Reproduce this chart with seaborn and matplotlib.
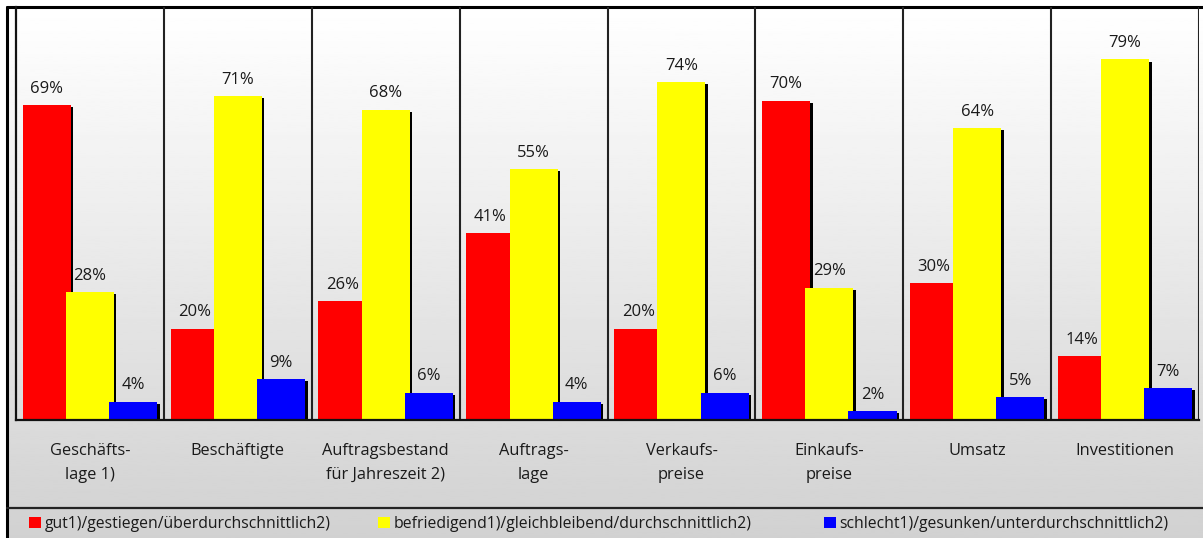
import numpy as np
import pandas as pd
import matplotlib.pyplot as plt
import seaborn as sns
from matplotlib.patches import Patch
from matplotlib import patheffects as pe

# --- Data ---
CATEGORIES = ["Geschäfts-\nlage 1)", "Beschäftigte", "Auftragsbestand\nfür Jahreszeit 2)",
              "Auftrags-\nlage", "Verkaufs-\npreise", "Einkaufs-\npreise", "Umsatz", "Investitionen"]
SERIES = ["gut1)/gestiegen/überdurchschnittlich2)",
          "befriedigend1)/gleichbleibend/durchschnittlich2)",
          "schlecht1)/gesunken/unterdurchschnittlich2)"]
GUT = [69, 20, 26, 41, 20, 70, 30, 14]
BEFRIEDIGEND = [28, 71, 68, 55, 74, 29, 64, 79]
SCHLECHT = [4, 9, 6, 4, 6, 2, 5, 7]
COLORS = ["#ff0000", "#ffff00", "#0000ff"]

rows = []
for name, vals in zip(SERIES, [GUT, BEFRIEDIGEND, SCHLECHT]):
    for cat, v in zip(CATEGORIES, vals):
        rows.append({"category": cat, "series": name, "value": v})
df = pd.DataFrame(rows)

# --- Style ---
sns.set_theme(style="white")
plt.rcParams["font.family"] = ["Open Sans", "DejaVu Sans"]
TXT = "#1a1a1a"

W, H = 1203, 538
fig = plt.figure(figsize=(W / 100, H / 100), dpi=100)

# background in pixel coordinates
bg = fig.add_axes([0, 0, 1, 1])
bg.set_xlim(0, W)
bg.set_ylim(H, 0)
bg.axis("off")
grad = np.linspace(1.0, 0.82, 256).reshape(-1, 1)
bg.imshow(grad, cmap="gray", vmin=0, vmax=1, extent=[7, W, H, 7], aspect="auto")
bg.plot([7, 7], [7, H], color="black", lw=2.2)
bg.plot([7, W], [7, 7], color="black", lw=2.2)
bg.plot([7, W], [508, 508], color="#222222", lw=1.6)

# main plot
ax = fig.add_axes([16 / W, (H - 420) / H, 1183 / W, 413 / H])
ax.patch.set_alpha(0)
sns.barplot(data=df, x="category", y="value", hue="series", palette=COLORS,
            width=0.876, linewidth=0, saturation=1, legend=False, ax=ax)

shadow = [pe.SimplePatchShadow(offset=(1.8, -1.5), shadow_rgbFace="black", alpha=1.0), pe.Normal()]
for cont in ax.containers:
    for rect in cont:
        x0 = rect.get_x()
        rect.set_x(x0 - (0.325 - rect.get_width()) / 2)
        rect.set_width(0.325)
        rect.set_path_effects(shadow)
    ax.bar_label(cont, fmt="%g%%", padding=6, fontsize=12, color=TXT)

ax.set_xlim(-0.5, len(CATEGORIES) - 0.5)
ax.set_ylim(0, 90.5)
ax.set_xlabel("")
ax.set_ylabel("")
ax.set_yticks([])
ax.vlines(np.arange(0.5, len(CATEGORIES) - 0.4, 1), 0, 90.5, color="#222222", lw=1.5)
for s in ["top", "right"]:
    ax.spines[s].set_visible(False)
for s in ["left", "bottom"]:
    ax.spines[s].set_color("#111111")
    ax.spines[s].set_linewidth(1.6)

ax.set_xticks(range(len(CATEGORIES)))
ax.set_xticklabels(CATEGORIES, fontsize=11.8, color=TXT, linespacing=1.65)
ax.tick_params(axis="x", which="major", length=0, pad=16.5)
ax.set_xticks(np.arange(-0.5, len(CATEGORIES)), minor=True)
ax.tick_params(axis="x", which="minor", length=5, width=1.5, color="#111111", direction="out")

# legend: one entry per position along the bottom strip
LEG_X = [29, 378, 824]
for c, name, lx in zip(COLORS, SERIES, LEG_X):
    fig.legend([Patch(facecolor=c, edgecolor="none")], [name], loc="center left",
               bbox_to_anchor=(lx / W, 1 - 524 / H), frameon=False, fontsize=11.3,
               handlelength=0.75, handleheight=0.75, handletextpad=0.25,
               labelcolor=TXT, borderaxespad=0, borderpad=0)

fig.savefig("out.png", dpi=100)
